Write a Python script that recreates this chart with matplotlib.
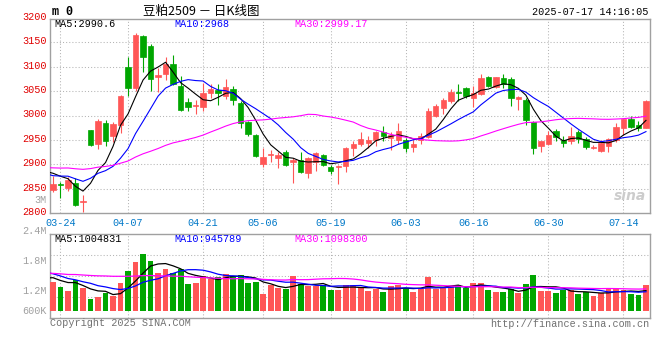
import numpy as np
import pandas as pd
import matplotlib.pyplot as plt
from matplotlib.transforms import blended_transform_factory

# Soybean meal 2509, daily K-line, 2025-03-21 .. 2025-07-17
opens = [2848, 2859, 2851, 2863, 2823, 2970, 2941, 2985, 2958, 2981,
         3099, 3056, 3163, 3143, 3078, 3085, 3105, 3061, 3027, 3019,
         3018, 3046, 3052, 3041, 3054, 3026, 2986, 2960, 2901, 2919,
         2914, 2925, 2904, 2909, 2883, 2906, 2919, 2894, 2894, 2896,
         2934, 2942, 2943, 2950, 2967, 2954, 2951, 2951, 2936, 2950,
         2957, 3000, 3015, 3030, 3049, 3056, 3037, 3044, 3080, 3059,
         3076, 3075, 3033, 3032, 2986, 2938, 2941, 2969, 2951, 2949,
         2967, 2953, 2934, 2928, 2938, 2950, 2975, 2992, 2981, 2974]
highs = [2877, 2865, 2875, 2873, 2837, 2971, 2992, 2991, 2986, 3042,
         3119, 3169, 3165, 3146, 3097, 3119, 3124, 3081, 3037, 3032,
         3067, 3064, 3064, 3075, 3061, 3030, 2988, 2962, 2933, 2930,
         2926, 2929, 2913, 2925, 2916, 2926, 2921, 2899, 2899, 2936,
         2947, 2967, 2958, 2969, 2979, 2967, 2984, 2955, 2950, 2964,
         3015, 3024, 3035, 3054, 3064, 3059, 3061, 3086, 3082, 3080,
         3086, 3078, 3041, 3037, 2988, 2948, 2969, 2972, 2958, 2977,
         2971, 2956, 2940, 2950, 2955, 2984, 2994, 2999, 2988, 3032]
lows = [2844, 2832, 2846, 2814, 2803, 2938, 2932, 2938, 2945, 2964,
        3041, 3050, 3090, 3051, 3049, 3073, 3063, 3009, 3009, 3003,
        3009, 3035, 3022, 3034, 3022, 2974, 2959, 2915, 2894, 2904,
        2893, 2896, 2863, 2882, 2873, 2887, 2897, 2880, 2859, 2885,
        2918, 2938, 2934, 2938, 2948, 2930, 2941, 2926, 2925, 2941,
        2955, 2998, 3004, 3025, 3030, 3037, 3018, 3043, 3059, 3057,
        3056, 3020, 3011, 2981, 2921, 2925, 2940, 2947, 2936, 2941,
        2943, 2932, 2932, 2925, 2925, 2946, 2960, 2974, 2968, 2974]
closes = [2860, 2857, 2868, 2817, 2825, 2940, 2989, 2948, 2983, 3041,
          3056, 3165, 3119, 3074, 3083, 3105, 3064, 3011, 3018, 3022,
          3047, 3054, 3046, 3059, 3031, 2984, 2962, 2918, 2916, 2921,
          2920, 2898, 2909, 2885, 2913, 2923, 2899, 2887, 2896, 2933,
          2941, 2952, 2950, 2966, 2959, 2960, 2968, 2934, 2941, 2958,
          3009, 3020, 3032, 3049, 3047, 3041, 3046, 3076, 3061, 3078,
          3064, 3037, 3039, 2991, 2934, 2947, 2960, 2957, 2943, 2958,
          2953, 2936, 2936, 2943, 2953, 2977, 2992, 2977, 2975, 3030]
# volume, thousand lots
volume_k = [1436, 1202, 985, 1536, 1152, 585, 701, 885, 718, 1386,
            2004, 2455, 2839, 2505, 1904, 2104, 1887, 2104, 1353, 1403,
            1737, 1587, 1703, 1837, 1737, 1787, 1403, 1436, 835, 1286,
            1152, 1086, 1737, 1319, 1236, 1236, 1286, 1035, 1035, 1286,
            1286, 1169, 985, 1069, 935, 1236, 1286, 1136, 935, 1069,
            1687, 1069, 1119, 1236, 1286, 1152, 1386, 1386, 1035, 935,
            935, 1069, 885, 1336, 1787, 985, 985, 885, 1035, 1035,
            835, 935, 735, 885, 1086, 1086, 1035, 835, 785, 1286]

# sessions before the window (not drawn), only there to seed the moving averages
warmup_close = [2880, 2870, 2862, 2866, 2859, 2895, 2900, 2905, 2910, 2915,
                2920, 2922, 2920, 2918, 2915, 2912, 2910, 2908, 2905, 2905,
                2903, 2865, 2870, 2872, 2875, 2878, 2888, 2893, 2895, 2874]
warmup_volume_k = [1900, 1900, 1950, 1600, 1900, 1300, 1200, 1100, 1200, 1400,
                   2000, 2100, 2200, 2300, 2350, 2300, 2250, 2200, 2150, 2100,
                   2100, 2300, 2250, 2200, 2125, 1360, 1900, 1500, 1550, 1880]

date_labels = ["03-24", "04-07", "04-21", "05-06", "05-19", "06-03", "06-16", "06-30", "07-14"]
date_index = [1, 10, 20, 28, 37, 47, 56, 66, 76]
price_ticks = [2800, 2850, 2900, 2950, 3000, 3050, 3100, 3150, 3200]
vol_labels = ["2.4M", "1.8M", "1.2M", "600K"]

RED = "#ff5656"
GREEN = "#00a600"
GRID = "#b4b4b4"
FRAME = "#a0a0a0"
MONO = "Liberation Mono"
CJK = ["Noto Sans CJK SC", "DejaVu Sans"]

W, H = 660, 360


def fpos(x, y):
    # pixel position -> figure fraction
    return x / W, 1 - y / H


opens = np.array(opens)
highs = np.array(highs)
lows = np.array(lows)
closes = np.array(closes)
volume_k = np.array(volume_k)
n = len(closes)
x = np.arange(n)
nw = len(warmup_close)
x_all = np.arange(-nw, n)

close_all = pd.Series(np.concatenate([warmup_close, closes]))
vol_all = pd.Series(np.concatenate([warmup_volume_k, volume_k]))

up = closes >= opens
colors = np.where(up, RED, GREEN)

fig = plt.figure(figsize=(6.6, 3.6), dpi=100)
fig.patch.set_facecolor("white")

# ---- price panel
ax = fig.add_axes([50.5 / W, 1 - 213.3 / H, 599 / W, (213.3 - 19) / H])
ax.set_xlim(-0.33, n - 0.53)
ax.set_ylim(2800, 3197.7)

ax.vlines(x, lows, highs, colors=colors, lw=0.8, zorder=3)
body = np.maximum(np.abs(closes - opens), 0.8)
ax.bar(x, body, bottom=np.minimum(opens, closes), width=0.72,
       color=colors, edgecolor=colors, lw=0.5, zorder=4)

for win, c in [(5, "black"), (10, "#0000ff"), (30, "#ff00ff")]:
    ma = close_all.rolling(win).mean()
    ax.plot(x_all, ma, color=c, lw=0.8, zorder=5)

ax.set_yticks(price_ticks[1:-1])
ax.set_yticklabels([])
ax.tick_params(axis="y", length=0)
ax.set_xticks(date_index)
ax.set_xticklabels(date_labels, fontfamily=MONO, fontsize=7.3, color="#0078c8")
ax.tick_params(axis="x", length=0, pad=3.5)
ax.grid(True, color=GRID, lw=0.75, ls=(0, (1, 2)))
ax.set_axisbelow(True)
for s in ax.spines.values():
    s.set_color(FRAME)
    s.set_linewidth(1.0)

trans = blended_transform_factory(ax.transAxes, ax.transData)
for p in price_ticks:
    ax.text(-0.006, p + 2.5, str(p), transform=trans, ha="right", va="center",
            fontfamily=MONO, fontsize=7.3, color="#e00000", clip_on=False)

ax.text(0.995, 0.09, "sina", transform=ax.transAxes, ha="right", va="center",
        fontsize=10, fontweight="bold", style="italic", color="#cccccc", zorder=1)

# ---- volume panel
ax2 = fig.add_axes([50.5 / W, 1 - 318.3 / H, 599 / W, (318.3 - 234.3) / H])
ax2.set_xlim(ax.get_xlim())
vlo, vhi = -381, 3828
ax2.set_ylim(vlo, vhi)
ax2.bar(x, volume_k, width=0.78, color=colors, lw=0, zorder=3)
for win, c in [(5, "black"), (10, "#0000ff"), (30, "#ff00ff")]:
    ma = vol_all.rolling(win).mean()
    ax2.plot(x_all, ma, color=c, lw=0.9, zorder=5)
ax2.set_xticks(date_index)
ax2.set_xticklabels([])
ax2.set_yticks([vlo + (vhi - vlo) * f for f in (0.25, 0.5, 0.75)])
ax2.set_yticklabels([])
ax2.tick_params(length=0)
ax2.grid(True, color=GRID, lw=0.75, ls=(0, (1, 2)))
ax2.set_axisbelow(True)
for s in ax2.spines.values():
    s.set_color(FRAME)
    s.set_linewidth(1.0)

for lab, py in zip(vol_labels, [230.7, 260.5, 290.7, 311]):
    fig.text(*fpos(46.5, py), lab, ha="right", va="center",
             fontfamily=MONO, fontsize=7.3, color="#a0a0a0")
fig.text(*fpos(46.5, 200), "3M", ha="right", va="center",
         fontfamily=MONO, fontsize=7.3, color="#a0a0a0")

# ---- header texts
fig.text(*fpos(52, 12), "m 0", ha="left", va="center",
         fontfamily=MONO, fontsize=8.5, fontweight="bold", color="black")
fig.text(*fpos(201, 11), "豆粕2509 － 日K线图", ha="center", va="center",
         family=CJK, fontsize=9, color="black")
fig.text(*fpos(648.5, 12), "2025-07-17 14:16:05", ha="right", va="center",
         fontfamily=MONO, fontsize=7.3, color="black")

for txt, c, px in [("MA5:2990.6", "black", 54.3), ("MA10:2968", "#0000ff", 174.3),
                   ("MA30:2999.17", "#ff00ff", 294.3)]:
    fig.text(*fpos(px, 24), txt, ha="left", va="center",
             fontfamily=MONO, fontsize=7.3, color=c)
for txt, c, px in [("MA5:1004831", "black", 54.3), ("MA10:945789", "#0000ff", 174.3),
                   ("MA30:1098300", "#ff00ff", 294.3)]:
    fig.text(*fpos(px, 238.5), txt, ha="left", va="center",
             fontfamily=MONO, fontsize=7.3, color=c)

fig.text(*fpos(50, 323), "Copyright 2025 SINA.COM", ha="left", va="center",
         fontfamily=MONO, fontsize=7.3, color="#707070")
fig.text(*fpos(649.5, 324), "http://finance.sina.com.cn", ha="right", va="center",
         fontfamily=MONO, fontsize=7.3, color="#707070")

fig.savefig("out.png", dpi=100)
